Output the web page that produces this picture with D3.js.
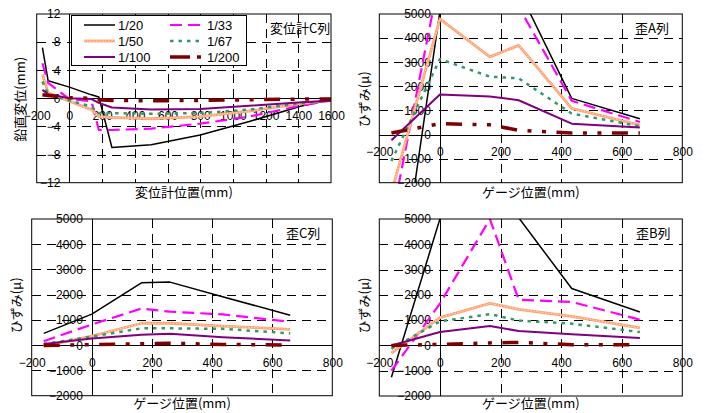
<!DOCTYPE html>
<html><head><meta charset="utf-8">
<script src="https://cdn.jsdelivr.net/npm/d3@7"></script>
<style>body{margin:0;background:#fff;} svg{display:block;}</style>
</head><body>
<svg id="c" width="706" height="413"></svg>
<script>
// ---------- data ----------
const seriesNames = ["1/20", "1/33", "1/50", "1/67", "1/100", "1/200"];

// displacement gauge row C (mm)
const dispX   = [-165, -130, 0, 135, 180, 260, 500, 800, 1100, 1420, 1600];
const dispC20  = [7.2, 2.5, 1.6, 0.5, 0.2, -7.0, -6.6, -5.2, -3.3, -1.1, -0.2];
const dispC33  = [5.0, 2.2, -0.1, -0.4, -4.5, -4.5, -4.3, -3.6, -2.6, -1.0, -0.3];
const dispC50  = [3.4, 0.8, -0.4, -1.6, -2.6, -2.7, -2.9, -2.6, -1.8, -0.7, -0.3];
const dispC67  = [2.4, 0.6, -0.3, -1.2, -2.1, -2.1, -2.2, -2.1, -1.6, -0.7, -0.3];
const dispC100 = [1.2, 0.6, 0.0, -0.1, -0.65, -1.3, -1.6, -1.5, -1.05, -0.55, -0.35];
const dispC200 = [0.5, 0.4, 0.1, 0.0, -0.2, -0.3, -0.35, -0.3, -0.2, -0.1, -0.1];

// strain gauges (μ)
const gaugeX = [-160, 0, 165, 260, 435, 660];
const strA20  = [-8700, 5100, 6500, 6000, 1500, 650];
const strA33  = [-3600, 6600, 7500, 5300, 1400, 520];
const strA50  = [-2400, 4800, 3220, 3700, 1080, 390];
const strA67  = [-1100, 3130, 2400, 2330, 870, 340];
const strA100 = [-240, 1660, 1580, 1420, 450, 290];
const strA200 = [60, 450, 400, 175, 65, 60];

const strC20  = [470, 1230, 2470, 2500, 1920, 1190];
const strC33  = [160, 820, 1450, 1330, 1220, 930];
const strC50  = [-40, 360, 870, 870, 760, 630];
const strC67  = [50, 340, 670, 670, 650, 470];
const strC100 = [50, 270, 410, 450, 320, 190];
const strC200 = [-10, 20, 60, 80, 30, 10];

const strB20  = [-1260, 5000, 6500, 5050, 2250, 1320];
const strB33  = [-1000, 1650, 5000, 1810, 1720, 1020];
const strB50  = [-300, 1100, 1660, 1430, 1150, 690];
const strB67  = [-130, 950, 1240, 980, 860, 530];
const strB100 = [0, 530, 770, 570, 440, 290];
const strB200 = [0, 40, 100, 120, 30, 30];

const dispTicksX = [-200, 0, 200, 400, 600, 800, 1000, 1200, 1400, 1600];
const dispTicksY = [-12, -8, -4, 0, 4, 8, 12];
const strainTicksX = [-200, 0, 200, 400, 600, 800];
const strainTicksY = [-2000, -1000, 0, 1000, 2000, 3000, 4000, 5000];

// ---------- styles ----------
const styles = [
  {color: "#000000", width: 1.5, dash: null},
  {color: "#FF00FF", width: 2.2, dash: "12,6"},
  {color: "#FFA272", width: 2.8, dash: null, overlay: "#FFD9C4"},
  {color: "#339966", width: 2.5, dash: "3.5,5"},
  {color: "#800080", width: 2, dash: null},
  {color: "#800000", width: 3.5, dash: "16,10.5,4,10.5,4,10.5", legendDash: "20,7,4,7"}
];
const numFont = "'Liberation Sans', Arial, sans-serif";
const jpFont = "'Noto Sans CJK JP', sans-serif";

const panels = [
  {box: [36.7, 14, 331, 182.7], xd: [-200, 1600], yd: [-12, 12], xt: dispTicksX, yt: dispTicksY,
   xs: dispX, ys: [dispC20, dispC33, dispC50, dispC67, dispC100, dispC200],
   label: "変位計C列", lx: 270, ly: 28, xTitle: "変位計位置(mm)", xty: 192.5,
   yTitle: "鉛直変位(mm)", ytx: 20, legend: true},
  {box: [379.3, 14, 682.3, 182.7], xd: [-200, 800], yd: [-2000, 5000], xt: strainTicksX, yt: strainTicksY,
   xs: gaugeX, ys: [strA20, strA33, strA50, strA67, strA100, strA200],
   label: "歪A列", lx: 635, ly: 28, xTitle: "ゲージ位置(mm)", xty: 192.5,
   yTitle: "ひずみ(μ)", ytx: 364},
  {box: [31.7, 219, 332.3, 395.7], xd: [-200, 800], yd: [-2000, 5000], xt: strainTicksX, yt: strainTicksY,
   xs: gaugeX, ys: [strC20, strC33, strC50, strC67, strC100, strC200],
   label: "歪C列", lx: 286, ly: 233, xTitle: "ゲージ位置(mm)", xty: 403.5,
   yTitle: "ひずみ(μ)", ytx: 16},
  {box: [379.3, 219, 682.3, 396], xd: [-200, 800], yd: [-2000, 5000], xt: strainTicksX, yt: strainTicksY,
   xs: gaugeX, ys: [strB20, strB33, strB50, strB67, strB100, strB200],
   label: "歪B列", lx: 636, ly: 233, xTitle: "ゲージ位置(mm)", xty: 403.5,
   yTitle: "ひずみ(μ)", ytx: 364}
];

const svg = d3.select("#c");

function styleLine(sel, s, useLegendDash) {
  sel.attr("fill", "none").attr("stroke", s.color).attr("stroke-width", s.width)
     .attr("stroke-linejoin", "round");
  const d = useLegendDash && s.legendDash ? s.legendDash : s.dash;
  if (d) sel.attr("stroke-dasharray", d);
}

panels.forEach((p, pi) => {
  const [x0, y0, x1, y1] = p.box;
  const x = d3.scaleLinear().domain(p.xd).range([x0, x1]);
  const y = d3.scaleLinear().domain(p.yd).range([y1, y0]);
  const g = svg.append("g");

  // gridlines
  const grid = g.append("g").attr("stroke", "#000").attr("stroke-width", 1)
    .attr("stroke-dasharray", "9,6").attr("shape-rendering", "crispEdges");
  p.xt.filter(v => v !== p.xd[0] && v !== p.xd[1] && v !== 0).forEach(v => {
    grid.append("line").attr("x1", Math.round(x(v)) + 0.5).attr("x2", Math.round(x(v)) + 0.5)
      .attr("y1", y0).attr("y2", y1);
  });
  p.yt.filter(v => v !== p.yd[0] && v !== p.yd[1] && v !== 0).forEach(v => {
    grid.append("line").attr("y1", Math.round(y(v)) + 0.5).attr("y2", Math.round(y(v)) + 0.5)
      .attr("x1", x0).attr("x2", x1);
  });

  // axes through zero using d3 axis generators (ticks hidden, labels kept)
  const xAxis = d3.axisBottom(x).tickValues(p.xt).tickSize(0).tickPadding(13).tickFormat(d3.format("d"));
  const gx = g.append("g").attr("transform", `translate(0,${y(0)})`).call(xAxis);
  gx.select(".domain").remove();
  gx.selectAll("text").attr("font-family", numFont).attr("font-size", 12).attr("fill", "#000");

  const yAxis = d3.axisLeft(y).tickValues(p.yt).tickSize(0).tickPadding(9).tickFormat(d3.format("d"));
  const gy = g.append("g").attr("transform", `translate(${x(0)},0)`).call(yAxis);
  gy.select(".domain").remove();
  gy.selectAll("text").attr("font-family", numFont).attr("font-size", 12).attr("fill", "#000");

  // zero lines
  g.append("line").attr("x1", x0).attr("x2", x1).attr("y1", Math.round(y(0)) + 0.5).attr("y2", Math.round(y(0)) + 0.5)
    .attr("stroke", "#000").attr("shape-rendering", "crispEdges");
  g.append("line").attr("y1", y0).attr("y2", y1).attr("x1", Math.round(x(0)) + 0.5).attr("x2", Math.round(x(0)) + 0.5)
    .attr("stroke", "#000").attr("shape-rendering", "crispEdges");

  // clip
  const cid = "clip" + pi;
  svg.append("clipPath").attr("id", cid).append("rect")
    .attr("x", x0).attr("y", y0).attr("width", x1 - x0).attr("height", y1 - y0);

  const lineGen = d3.line().x(d => x(d[0])).y(d => y(d[1]));
  const lg = g.append("g").attr("clip-path", `url(#${cid})`);
  p.ys.forEach((vals, si) => {
    const pts = p.xs.map((xv, i) => [xv, vals[i]]);
    const s = styles[si];
    lg.append("path").attr("d", lineGen(pts)).call(styleLine, s, false);
    if (s.overlay) {
      lg.append("path").attr("d", lineGen(pts)).attr("fill", "none")
        .attr("stroke", s.overlay).attr("stroke-width", 1).attr("stroke-dasharray", "1.5,1.5");
    }
  });

  // border
  g.append("rect").attr("x", x0).attr("y", y0).attr("width", x1 - x0).attr("height", y1 - y0)
    .attr("fill", "none").attr("stroke", "#000").attr("stroke-width", 1);

  // panel label
  g.append("text").attr("x", p.lx).attr("y", p.ly).attr("dy", "0.35em")
    .attr("font-family", jpFont).attr("font-size", 13).text(p.label);

  // axis titles
  g.append("text").attr("x", (x0 + x1) / 2).attr("y", p.xty).attr("dy", "0.35em")
    .attr("text-anchor", "middle").attr("font-family", jpFont).attr("font-size", 13).text(p.xTitle);
  g.append("text").attr("transform", `translate(${p.ytx},${(y0 + y1) / 2 + (pi < 2 ? 1 : -2)}) rotate(-90)`)
    .attr("dy", "0.35em").attr("text-anchor", "middle").attr("font-family", jpFont).attr("font-size", 13)
    .text(p.yTitle);

  // legend
  if (p.legend) {
    const lgd = g.append("g");
    lgd.append("rect").attr("x", 71.5).attr("y", 15.5).attr("width", 175).attr("height", 50)
      .attr("fill", "#fff").attr("stroke", "#000").attr("stroke-width", 1);
    seriesNames.forEach((name, i) => {
      const col = i % 2, row = Math.floor(i / 2);
      const lx0 = col === 0 ? 84 : 170, lx1 = col === 0 ? 115 : 203;
      const tx = col === 0 ? 118 : 207;
      const ly = 25 + row * 16;
      const s = styles[i];
      lgd.append("line").attr("x1", lx0).attr("x2", lx1).attr("y1", ly).attr("y2", ly).call(styleLine, s, true);
      if (s.overlay) {
        lgd.append("line").attr("x1", lx0).attr("x2", lx1).attr("y1", ly).attr("y2", ly)
          .attr("stroke", s.overlay).attr("stroke-width", 1).attr("stroke-dasharray", "1.5,1.5");
      }
      lgd.append("text").attr("x", tx).attr("y", ly).attr("dy", "0.36em")
        .attr("font-family", numFont).attr("font-size", 13).text(name);
    });
  }
});
</script>
</body></html>
